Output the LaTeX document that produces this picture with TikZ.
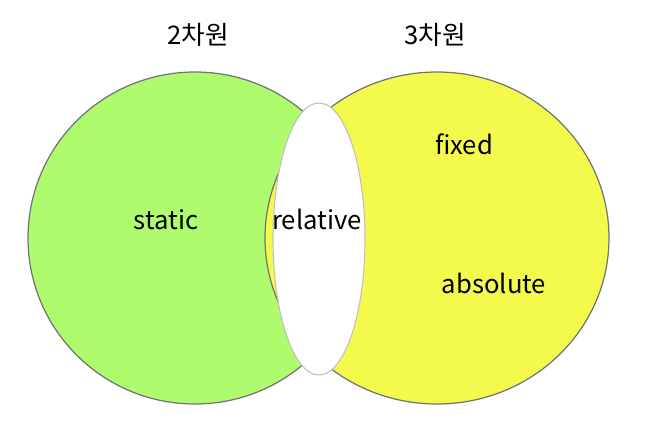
\documentclass[tikz,border=0pt]{standalone}
\usepackage{fontspec}
\newfontfamily\kr{Noto Sans CJK KR}
\definecolor{lawn}{RGB}{174,251,110}
\definecolor{lemon}{RGB}{244,250,76}
\begin{document}
\begin{tikzpicture}[lab/.style={font=\kr\fontsize{14.6}{17}\selectfont,anchor=base}]
	\useasboundingbox (0,0) rectangle (12.92,8.42);
	\draw[black!55,fill=lawn,line width=.7pt] (3.9,3.66)ellipse[x radius=3.34,y radius=3.32];
	\draw[black!55,fill=lemon,line width=.7pt] (8.74,3.66)ellipse[x radius=3.44,y radius=3.32];
	\draw[black!25,fill=white,line width=.6pt] (6.38,3.64)ellipse[x radius=.92,y radius=2.72];
	\node[lab] (dim2) at (3.96,7.52) {2차원};
	\node[lab] (dim3) at (8.7,7.52) {3차원};
	\node[lab] (static) at (3.32,3.82) {static};
	\node[lab] (relative) at (6.34,3.82) {relative};
	\node[lab] (fixed) at (9.28,5.34) {fixed};
	\node[lab] (absolute) at (9.88,2.56) {absolute};
\end{tikzpicture}
\end{document}
